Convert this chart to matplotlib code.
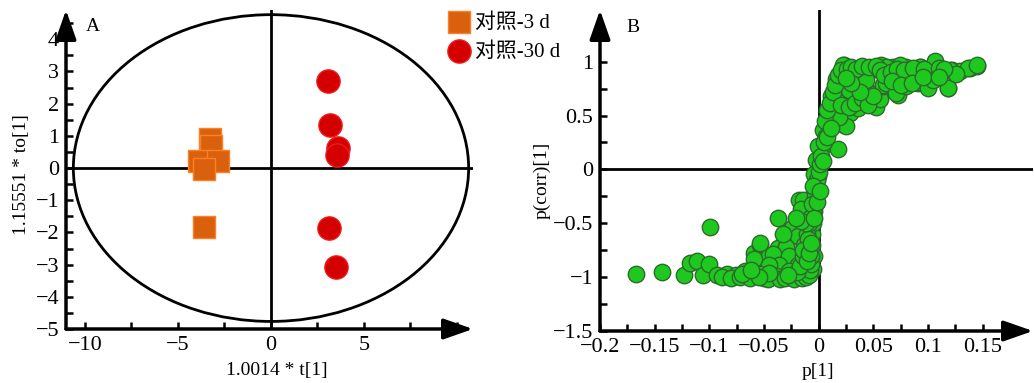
import matplotlib
matplotlib.use("Agg")
import matplotlib.pyplot as plt
from matplotlib.patches import Ellipse
from matplotlib.ticker import MultipleLocator, FixedLocator

plt.rcParams["font.family"] = ["Liberation Serif", "Noto Sans CJK SC"]
plt.rcParams["axes.unicode_minus"] = True

# panel A: OPLS-DA scores
d3_x = [-3.28, -3.20, -3.85, -2.83, -3.62, -3.62]
d3_y = [0.91, 0.70, 0.23, 0.23, -0.03, -1.83]
d30_x = [3.05, 3.17, 3.62, 3.57, 3.10, 3.48]
d30_y = [2.71, 1.34, 0.61, 0.41, -1.87, -3.07]
legend_labels = ["对照-3 d", "对照-30 d"]
a_xticks = [-10, -5, 0, 5]

# panel B: S-plot, p[1] vs p(corr)[1]
p1 = [-0.167, -0.143, -0.123, -0.118, -0.111, -0.106, -0.100, -0.0995, -0.093, -0.084,
      -0.076, -0.067, -0.057, -0.059, -0.054, -0.0575, -0.048, -0.045, -0.0376, -0.0376,
      -0.042, -0.030, -0.027, -0.033, -0.025, -0.021, -0.018, -0.016, -0.0116, -0.0085,
      -0.007, -0.0055, -0.004, -0.0024, 0.0006, 0.0037, 0.0043, 0.0175, 0.0129, 0.0236,
      0.0144, 0.0206, 0.016, 0.0227, 0.0282, 0.031, 0.0343, 0.037, 0.0435, 0.0466,
      0.0527, 0.0557, 0.0588, 0.062, 0.068, 0.0634, 0.0725, 0.0757, 0.080, 0.0925,
      0.091, 0.0986, 0.106, 0.1047, 0.1185, 0.1216, 0.129, 0.138, 0.145,
      -0.001, -0.0024, -0.0055, -0.004, -0.0147, -0.016, -0.024, -0.0085, -0.019, -0.010,
      -0.030, -0.054, -0.059, -0.042, -0.027, -0.0116, -0.036, -0.045, -0.019, -0.067,
      -0.027, -0.0116, -0.054, -0.039, -0.018, -0.0055, -0.004,
      -0.001, -0.0024, -0.004, 0.0068, 0.0114, 0.0236, 0.0129, 0.025, 0.0098, 0.022,
      0.019, 0.031, 0.037, 0.045, 0.036, 0.048, 0.057, 0.059, 0.028, 0.0435, 0.019,
      0.062, 0.074, 0.0925, 0.105, 0.106, 0.120, 0.137, 0.1445, 0.062, 0.071,
      0.091, 0.100, 0.1185, 0.083, 0.126, 0.080, 0.105,
      -0.088, -0.080, -0.072, -0.063, -0.050, -0.046, -0.035, -0.031, -0.023, -0.015,
      -0.012, -0.009, -0.008, -0.007, -0.007, -0.006, -0.006, -0.005, -0.004, -0.003,
      -0.002, 0.0, 0.001, 0.002, 0.005, 0.006, 0.008, 0.010, 0.013, 0.015,
      0.018, 0.020, 0.026, 0.030, 0.034, 0.040, 0.046, 0.052, 0.056, 0.060,
      0.066, 0.072, 0.078, 0.086, 0.096, 0.110, 0.115, 0.020, 0.028, 0.033,
      0.040, 0.045, 0.050, 0.038, 0.030, 0.025, 0.067, 0.075, 0.085, 0.095,
      0.110, -0.020, -0.017, -0.014, -0.013, -0.011, -0.009, -0.008, -0.006, -0.005,
      -0.028, -0.045, -0.055, -0.070, -0.062, -0.010, -0.012, -0.016, -0.021, -0.033,
      -0.014, -0.011, -0.009, -0.007, -0.004, -0.002, 0.001, 0.004, 0.008, 0.011]
pcorr = [-0.97, -0.95, -0.98, -0.87, -0.85, -0.98, -0.88, -0.53, -0.98, -0.97,
         -0.98, -0.95, -0.98, -0.78, -0.70, -0.83, -0.92, -0.80, -0.45, -0.73,
         -0.985, -0.72, -0.96, -0.88, -0.55, -0.60, -0.28, -0.40, -0.85, -0.74,
         -0.55, -0.40, -0.215, -0.06, 0.06, 0.215, 0.37, 0.185, 0.51, 0.415,
         0.68, 0.75, 0.84, 0.97, 0.52, 0.65, 0.74, 0.86, 0.92, 0.71,
         0.58, 0.65, 0.77, 0.95, 0.95, 0.785, 0.69, 0.86, 0.95, 0.95,
         0.80, 0.88, 1.00, 0.92, 0.755, 0.92, 0.91, 0.94, 0.96,
         -0.06, -0.20, -0.29, -0.385, -0.28, -0.37, -0.54, -0.57, -0.62, -0.72,
         -0.72, -0.68, -0.83, -0.785, -0.80, -0.83, -0.89, -0.89, -0.89, -0.94,
         -0.94, -0.955, -0.97, -0.985, -1.00, -0.92, -0.80,
         0.215, 0.09, -0.046, 0.31, 0.68, 0.65, 0.54, 0.40, 0.46, 0.97,
         0.86, 0.85, 0.77, 0.71, 0.57, 0.92, 0.97, 0.785, 0.74, 0.83, 0.49,
         0.95, 0.97, 0.95, 0.92, 1.01, 0.92, 0.94, 0.97, 0.80, 0.71,
         0.815, 0.755, 0.755, 0.89, 0.89, 0.77, 0.83,
         -1.00, -1.01, -1.00, -1.01, -1.01, -1.02, -1.02, -1.01, -1.02, -1.01,
         -1.00, -0.98, -0.93, -0.88, -0.80, -0.70, -0.60, -0.50, -0.35, -0.25,
         -0.10, -0.02, 0.05, 0.12, 0.25, 0.45, 0.55, 0.62, 0.72, 0.78,
         0.88, 0.92, 0.93, 0.95, 0.93, 0.96, 0.95, 0.96, 0.92, 0.88,
         0.90, 0.93, 0.92, 0.94, 0.93, 0.94, 0.93, 0.60, 0.58, 0.62,
         0.66, 0.60, 0.68, 0.72, 0.80, 0.85, 0.82, 0.78, 0.80, 0.86,
         0.86, -0.95, -0.90, -0.80, -0.70, -0.60, -0.50, -0.45, -0.32, -0.15,
         -0.98, -0.96, -1.00, -0.97, -0.93, -0.65, -0.50, -0.48, -0.45, -0.60,
         -0.75, -0.85, -0.78, -0.68, -0.45, -0.30, -0.20, 0.08, 0.30, 0.38]

FS = 16
LFS = 14
fig = plt.figure(figsize=(10.34, 3.83), dpi=100)


def style_axes(ax, letter, letter_x):
    for s in ax.spines.values():
        s.set_visible(False)
    arrow = dict(arrowstyle="-|>,head_length=1.0,head_width=0.35", lw=2.5,
                 color="k", mutation_scale=18, shrinkA=0, shrinkB=0)
    ax.annotate("", xy=(1, 0), xytext=(0, 0), xycoords="axes fraction",
                arrowprops=arrow, annotation_clip=False)
    ax.annotate("", xy=(0, 1), xytext=(0, 0), xycoords="axes fraction",
                arrowprops=arrow, annotation_clip=False)
    ax.axhline(0, color="k", lw=2, zorder=1)
    ax.axvline(0, color="k", lw=2, zorder=1)
    ax.tick_params(which="both", direction="in", length=5, width=1.8,
                   labelsize=FS, pad=5)
    ax.text(letter_x, 0.947, letter, transform=ax.transAxes, fontsize=LFS,
            ha="center", va="center")


def minus(v, pos):
    return f"{v:g}".replace("-", "\u2212")


# ---- panel A
axA = fig.add_axes([66 / 1034, 1 - 329 / 383, 407 / 1034, 319 / 383])
axA.add_patch(Ellipse((0, 0), 21.25, 9.53, fill=False, lw=2, ec="k", zorder=1))
sq = axA.scatter(d3_x, d3_y, marker="s", s=240, c="#d9600c", edgecolors="#ff7f27",
                 linewidths=1, zorder=3)
ci = axA.scatter(d30_x, d30_y, marker="o", s=280, c="#d40000", edgecolors="#ee1a1a",
                 linewidths=1, zorder=3)
axA.set_xlim(-11.02, 10.86)
axA.set_ylim(-5, 4.91)
axA.xaxis.set_major_locator(FixedLocator(a_xticks))
axA.xaxis.set_minor_locator(MultipleLocator(2.5))
axA.yaxis.set_major_locator(MultipleLocator(1))
axA.yaxis.set_minor_locator(MultipleLocator(0.5))
axA.xaxis.set_major_formatter(plt.FuncFormatter(minus))
axA.yaxis.set_major_formatter(plt.FuncFormatter(minus))
style_axes(axA, "A", 0.066)
axA.set_xlabel("1.0014 * t[1]", fontsize=LFS)
axA.set_ylabel("1.15551 * to[1]", fontsize=LFS)
axA.xaxis.set_label_coords(0.518, -0.103)
axA.yaxis.set_label_coords(-0.088, 0.483)

fig.legend([sq, ci], legend_labels, loc="upper left",
           bbox_to_anchor=(449 / 1034, 1 - 13 / 383), frameon=False,
           fontsize=15, handlelength=1.0, handletextpad=0.25, labelspacing=0.45,
           borderpad=0, borderaxespad=0)

# ---- panel B
axB = fig.add_axes([600 / 1034, 1 - 331 / 383, 433 / 1034, 321 / 383])
axB.scatter(p1, pcorr, s=140, c="#1ec81e", edgecolors="#2d6a2d", linewidths=1,
            zorder=3)
axB.set_xlim(-0.2, 0.196)
axB.set_ylim(-1.5, 1.48)
axB.xaxis.set_major_locator(MultipleLocator(0.05))
axB.xaxis.set_minor_locator(MultipleLocator(0.025))
axB.yaxis.set_major_locator(MultipleLocator(0.5))
axB.yaxis.set_minor_locator(MultipleLocator(0.25))
axB.xaxis.set_major_formatter(plt.FuncFormatter(minus))
axB.yaxis.set_major_formatter(plt.FuncFormatter(minus))
style_axes(axB, "B", 0.076)
axB.set_xlabel("p[1]", fontsize=LFS)
axB.set_ylabel("p(corr)[1]", fontsize=LFS)
axB.xaxis.set_label_coords(0.503, -0.10)
axB.yaxis.set_label_coords(-0.115, 0.47)

fig.savefig("out.png", dpi=100)
